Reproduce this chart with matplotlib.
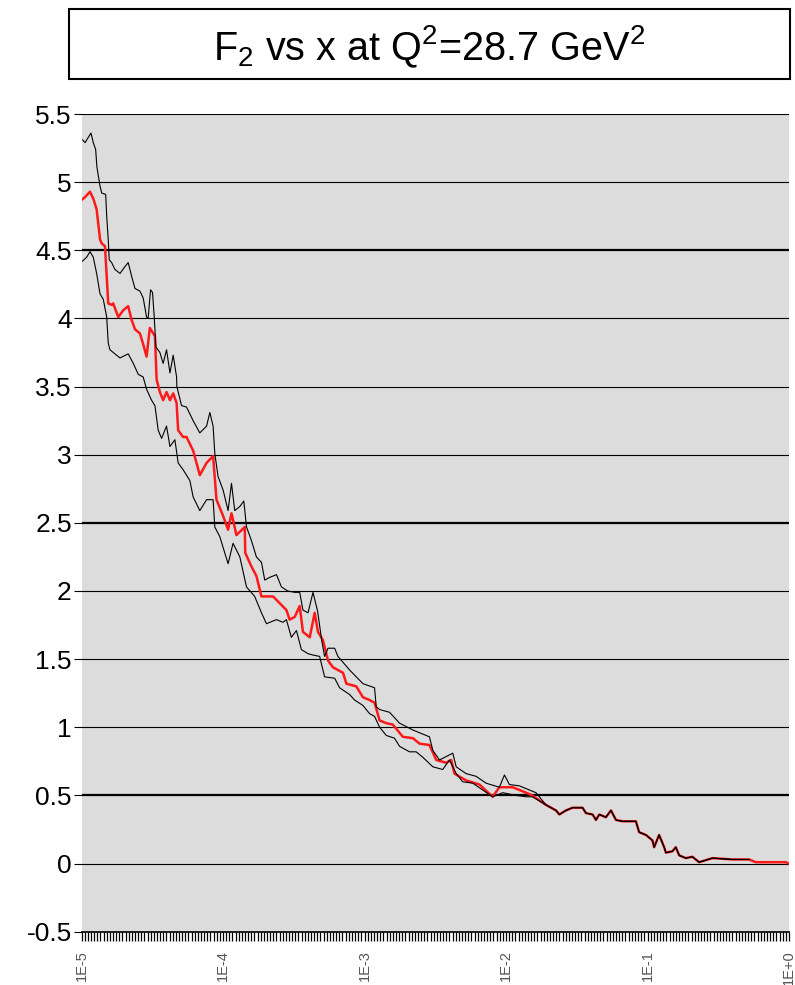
#!/usr/bin/env python3
"""F2 structure function vs Bjorken x at fixed Q^2, with upper/lower error band."""

from __future__ import annotations

import matplotlib

matplotlib.use("Agg")
import matplotlib.pyplot as plt
import numpy as np
from matplotlib.patches import Rectangle
from matplotlib.ticker import FixedLocator, NullFormatter

# log10(x) and F2 for the central fit and the two error curves
upper_lgx = [-4.992, -4.975, -4.933, -4.917, -4.900, -4.891, -4.869, -4.857, -4.829, -4.822,
             -4.811, -4.804, -4.787, -4.764, -4.728, -4.693, -4.670, -4.646, -4.622, -4.587,
             -4.564, -4.540, -4.529, -4.512, -4.498, -4.486, -4.474, -4.446, -4.423, -4.399,
             -4.375, -4.352, -4.328, -4.326, -4.293, -4.258, -4.211, -4.164, -4.116, -4.093,
             -4.070, -4.058, -4.035, -3.999, -3.964, -3.940, -3.917, -3.881, -3.853, -3.834,
             -3.799, -3.764, -3.728, -3.705, -3.670, -3.622, -3.587, -3.543, -3.493, -3.458,
             -3.435, -3.399, -3.364, -3.331, -3.303, -3.282, -3.258, -3.211, -3.188, -3.105,
             -3.011, -2.929, -2.917, -2.893, -2.823, -2.752, -2.658, -2.541, -2.517, -2.470,
             -2.376, -2.352, -2.282, -2.211, -2.141, -2.047, -2.011, -1.976, -1.905, -1.835,
             -1.788]
upper_f2 = [5.31, 5.29, 5.36, 5.29, 5.24, 5.11, 4.97, 4.92, 4.91, 4.75,
            4.58, 4.43, 4.41, 4.36, 4.33, 4.38, 4.41, 4.31, 4.22, 4.20,
            4.15, 4.01, 4.00, 4.21, 4.19, 4.01, 3.79, 3.75, 3.67, 3.77,
            3.60, 3.73, 3.57, 3.50, 3.36, 3.35, 3.25, 3.16, 3.21, 3.31,
            3.21, 3.01, 2.84, 2.74, 2.59, 2.79, 2.59, 2.62, 2.66, 2.47,
            2.37, 2.25, 2.21, 2.08, 2.10, 2.12, 2.03, 2.00, 1.99, 1.99,
            1.86, 1.84, 1.99, 1.85, 1.64, 1.52, 1.58, 1.58, 1.52, 1.42,
            1.32, 1.29, 1.15, 1.13, 1.11, 1.03, 0.98, 0.93, 0.83, 0.76,
            0.81, 0.71, 0.66, 0.64, 0.59, 0.56, 0.65, 0.58, 0.57, 0.54,
            0.52]

central_lgx = [-4.999, -4.975, -4.940, -4.917, -4.893, -4.869, -4.857, -4.834, -4.822, -4.811,
               -4.787, -4.776, -4.740, -4.705, -4.670, -4.646, -4.622, -4.587, -4.564, -4.540,
               -4.517, -4.481, -4.469, -4.446, -4.423, -4.399, -4.375, -4.352, -4.328, -4.317,
               -4.282, -4.258, -4.211, -4.164, -4.116, -4.070, -4.046, -3.999, -3.964, -3.940,
               -3.905, -3.846, -3.843, -3.799, -3.764, -3.728, -3.693, -3.646, -3.599, -3.552,
               -3.529, -3.493, -3.458, -3.435, -3.387, -3.352, -3.329, -3.294, -3.258, -3.223,
               -3.152, -3.128, -3.058, -3.011, -2.964, -2.929, -2.893, -2.846, -2.800, -2.729,
               -2.658, -2.611, -2.541, -2.493, -2.423, -2.387, -2.364, -2.282, -2.188, -2.094,
               -2.047, -1.953, -1.858, -1.814]
central_f2 = [4.87, 4.89, 4.93, 4.88, 4.80, 4.58, 4.55, 4.53, 4.31, 4.11,
              4.10, 4.11, 4.01, 4.06, 4.09, 3.99, 3.92, 3.89, 3.81, 3.72,
              3.93, 3.87, 3.55, 3.46, 3.40, 3.46, 3.40, 3.45, 3.38, 3.18,
              3.13, 3.13, 3.03, 2.85, 2.94, 2.99, 2.67, 2.55, 2.45, 2.57,
              2.41, 2.47, 2.28, 2.18, 2.11, 1.96, 1.96, 1.96, 1.91, 1.86,
              1.79, 1.81, 1.89, 1.70, 1.66, 1.84, 1.70, 1.64, 1.49, 1.44,
              1.40, 1.32, 1.30, 1.22, 1.20, 1.18, 1.05, 1.03, 1.02, 0.93,
              0.92, 0.88, 0.87, 0.76, 0.74, 0.76, 0.66, 0.61, 0.58, 0.49,
              0.56, 0.56, 0.52, 0.50]

lower_lgx = [-4.994, -4.963, -4.940, -4.917, -4.893, -4.869, -4.846, -4.822, -4.811, -4.799,
             -4.752, -4.728, -4.670, -4.634, -4.599, -4.564, -4.540, -4.505, -4.481, -4.458,
             -4.434, -4.399, -4.375, -4.340, -4.317, -4.282, -4.234, -4.211, -4.164, -4.116,
             -4.070, -4.058, -4.023, -3.964, -3.929, -3.881, -3.834, -3.776, -3.728, -3.693,
             -3.622, -3.576, -3.552, -3.517, -3.481, -3.446, -3.399, -3.364, -3.317, -3.282,
             -3.211, -3.176, -3.105, -3.070, -3.011, -2.964, -2.929, -2.893, -2.846, -2.788,
             -2.752, -2.682, -2.635, -2.588, -2.517, -2.447, -2.400, -2.352, -2.306, -2.235,
             -2.165, -2.094, -2.023, -1.929, -1.858, -1.814]
lower_f2 = [4.42, 4.45, 4.49, 4.45, 4.33, 4.18, 4.14, 4.01, 3.82, 3.77,
            3.73, 3.71, 3.74, 3.67, 3.59, 3.57, 3.48, 3.40, 3.36, 3.18,
            3.12, 3.21, 3.06, 3.11, 2.94, 2.89, 2.81, 2.69, 2.59, 2.67,
            2.67, 2.47, 2.40, 2.20, 2.35, 2.25, 2.03, 1.96, 1.84, 1.76,
            1.79, 1.77, 1.79, 1.66, 1.71, 1.57, 1.54, 1.53, 1.52, 1.37,
            1.36, 1.29, 1.24, 1.20, 1.16, 1.10, 1.08, 1.00, 0.94, 0.92,
            0.86, 0.82, 0.82, 0.78, 0.71, 0.69, 0.76, 0.66, 0.60, 0.59,
            0.54, 0.49, 0.52, 0.50, 0.49, 0.49]

# high-x region where all three curves coincide
tail_lgx = [-1.717, -1.647, -1.623, -1.576, -1.529, -1.459, -1.435, -1.388, -1.364, -1.341,
            -1.294, -1.258, -1.223, -1.177, -1.082, -1.059, -1.011, -0.965, -0.953, -0.918,
            -0.882, -0.870, -0.824, -0.800, -0.776, -0.729, -0.683, -0.635, -0.541, -0.400,
            -0.282]
tail_f2 = [0.43, 0.39, 0.36, 0.39, 0.41, 0.41, 0.37, 0.36, 0.32, 0.36,
           0.34, 0.39, 0.32, 0.31, 0.31, 0.23, 0.21, 0.17, 0.12, 0.21,
           0.12, 0.08, 0.09, 0.12, 0.06, 0.04, 0.05, 0.01, 0.04, 0.03,
           0.03]

# central fit only, continued up to x = 1
central_end_lgx = [-0.235, -0.023, 0.0]
central_end_f2 = [0.01, 0.01, 0.0]

y_ticks = [-0.5, 0, 0.5, 1, 1.5, 2, 2.5, 3, 3.5, 4, 4.5, 5, 5.5]
y_labels = ["-0.5", "0", "0.5", "1", "1.5", "2", "2.5", "3", "3.5", "4", "4.5", "5", "5.5"]
heavy_grid = [0.5, 2.5, 4.5]
x_ticks = [1e-5, 1e-4, 1e-3, 1e-2, 1e-1, 1e0]
x_labels = ["1E-5", "1E-4", "1E-3", "1E-2", "1E-1", "1E+0"]

TITLE = r"F$_2$ vs x at Q$^2$=28.7 GeV$^2$"

W, H = 795, 985


def curve(lgx, f2, with_tail=True, extra=None):
    lx = list(lgx) + (tail_lgx if with_tail else [])
    fy = list(f2) + (tail_f2 if with_tail else [])
    if extra is not None:
        lx += extra[0]
        fy += extra[1]
    return 10.0 ** np.asarray(lx), np.asarray(fy)


def main():
    plt.rcParams["font.family"] = ["Liberation Sans", "DejaVu Sans"]
    plt.rcParams["mathtext.fontset"] = "custom"
    plt.rcParams["mathtext.rm"] = "Liberation Sans"
    plt.rcParams["mathtext.it"] = "Liberation Sans:italic"
    plt.rcParams["mathtext.default"] = "regular"

    fig = plt.figure(figsize=(W / 100, H / 100), dpi=100)
    left, right, top, bottom = 81.5, 789.0, 114.0, 931.7
    ax = fig.add_axes([left / W, 1 - bottom / H, (right - left) / W, (bottom - top) / H])

    # title box
    fig.add_artist(Rectangle((69 / W, 1 - 79 / H), (790 - 69) / W, 70 / H,
                             transform=fig.transFigure, fill=False,
                             edgecolor="black", lw=1.5))
    fig.text(429.5 / W, 1 - 60 / H, TITLE, ha="center", va="baseline", fontsize=28.5)

    ax.set_facecolor("#dcdcdc")
    ax.set_xscale("log")
    ax.set_xlim(1e-5, 1.0)
    ax.set_ylim(-0.5, 5.5)

    x, y = curve(central_lgx, central_f2, extra=(central_end_lgx, central_end_f2))
    ax.plot(x, y, color="#ff1a1a", lw=1.8, zorder=3)
    x, y = curve(upper_lgx, upper_f2)
    ax.plot(x, y, color="black", lw=0.8, zorder=4)
    x, y = curve(lower_lgx, lower_f2)
    ax.plot(x, y, color="black", lw=0.8, zorder=4)

    for side in ("top", "right", "left"):
        ax.spines[side].set_visible(False)
    ax.spines["bottom"].set_linewidth(1.2)

    ax.set_yticks(y_ticks)
    ax.set_yticklabels(y_labels, fontsize=19)
    ax.tick_params(axis="y", length=6, width=0.8, pad=1)
    ax.grid(axis="y", color="black", lw=0.8)
    for val, line in zip(y_ticks, ax.get_ygridlines()):
        if val in heavy_grid:
            line.set_linewidth(1.6)

    ax.xaxis.set_major_locator(FixedLocator(x_ticks))
    ax.set_xticklabels(x_labels, rotation=90, fontsize=10.5, color="#555555")
    ax.xaxis.set_minor_locator(FixedLocator(10.0 ** np.arange(-5, 0, 1 / 45)))
    ax.xaxis.set_minor_formatter(NullFormatter())
    ax.tick_params(axis="x", which="both", length=6.5, width=0.9, pad=7)

    fig.savefig("out.png", dpi=100)
    plt.close(fig)


if __name__ == "__main__":
    main()
